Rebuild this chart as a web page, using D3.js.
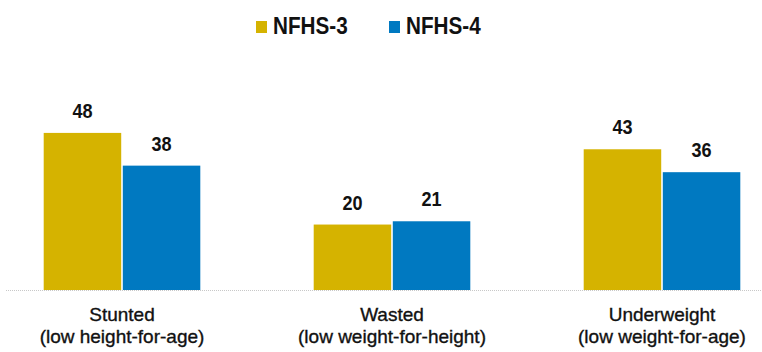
<!DOCTYPE html>
<html>
<head>
<meta charset="utf-8">
<script src="https://cdn.jsdelivr.net/npm/d3@7"></script>
<style>
  body { margin: 0; background: #fff; }
  svg { display: block; font-family: "Liberation Sans", Arial, sans-serif; }
</style>
</head>
<body>
<div id="chart"></div>
<script>
var categories = ['Stunted', 'Wasted', 'Underweight'];
var subLabels = ['(low height-for-age)', '(low weight-for-height)', '(low weight-for-age)'];
var series = ['NFHS-3', 'NFHS-4'];
var nfhs3 = [48, 20, 43];
var nfhs4 = [38, 21, 36];
var colors = ['#D5B300', '#0079C1'];

var width = 762, height = 352;
var baseY = 290;
var narrow = 0.86; // the source font is a condensed face

var svg = d3.select('#chart')
    .append('svg')
    .attr('width', width)
    .attr('height', height);

var rows = categories.map(function(c, i) {
	return { cat: c, sub: subLabels[i], vals: [nfhs3[i], nfhs4[i]] };
});

var x0 = d3.scaleBand()
    .domain(categories)
    .range([-13, 797])
    .paddingInner(0.42)
    .paddingOuter(0.21);

var x1 = d3.scaleBand()
    .domain(series)
    .range([0, x0.bandwidth()])
    .paddingInner(0.02);

var y = d3.scaleLinear()
    .domain([0, 55])
    .range([baseY, 110]);

// baseline
svg.append('line')
    .attr('x1', 6)
    .attr('x2', width)
    .attr('y1', baseY + 0.5)
    .attr('y2', baseY + 0.5)
    .attr('stroke', '#c8c8c8')
    .attr('stroke-width', 1)
    .attr('stroke-dasharray', '1,1');

var groups = svg.selectAll('g.grp')
    .data(rows)
    .enter().append('g')
    .attr('class', 'grp')
    .attr('transform', function(d) { return 'translate(' + x0(d.cat) + ',0)'; });

groups.selectAll('rect')
    .data(function(d) { return d.vals.map(function(v, j) { return { s: series[j], v: v, j: j }; }); })
    .enter().append('rect')
    .attr('x', function(d) { return x1(d.s); })
    .attr('y', function(d) { return y(d.v); })
    .attr('width', x1.bandwidth())
    .attr('height', function(d) { return baseY - y(d.v); })
    .attr('fill', function(d) { return colors[d.j]; });

groups.selectAll('text.val')
    .data(function(d) { return d.vals.map(function(v, j) { return { s: series[j], v: v }; }); })
    .enter().append('text')
    .attr('class', 'val')
    .attr('transform', function(d) {
		return 'translate(' + (x1(d.s) + x1.bandwidth() / 2) + ',' + (y(d.v) - 15) + ') scale(' + narrow + ',1)';
	})
    .attr('text-anchor', 'middle')
    .attr('font-size', 21)
    .attr('font-weight', 'bold')
    .attr('fill', '#111')
    .text(function(d) { return d.v; });

// category labels
var xAxis = svg.append('g')
    .attr('transform', 'translate(0,' + baseY + ')')
    .call(d3.axisBottom(x0).tickSize(0).tickFormat(''));
xAxis.select('.domain').remove();

xAxis.selectAll('.tick').each(function(c, i) {
	var t = d3.select(this).append('text')
	    .attr('text-anchor', 'middle')
	    .attr('fill', '#111')
	    .attr('stroke', '#111')
	    .attr('stroke-width', 0.35)
	    .attr('font-size', 19);
	t.append('tspan').attr('x', 0).attr('y', 31).text(c);
	t.append('tspan').attr('x', 0).attr('y', 53).text(subLabels[i]);
});

// legend
var legend = svg.append('g');
var legX = [256, 389];
series.forEach(function(s, i) {
	legend.append('rect')
	    .attr('x', legX[i])
	    .attr('y', 21)
	    .attr('width', 11)
	    .attr('height', 12)
	    .attr('fill', colors[i]);
	legend.append('text')
	    .attr('transform', 'translate(' + (legX[i] + 17) + ',34) scale(0.9,1)')
	    .attr('font-size', 23)
	    .attr('font-weight', 'bold')
	    .attr('fill', '#111')
	    .text(s);
});
</script>
</body>
</html>
